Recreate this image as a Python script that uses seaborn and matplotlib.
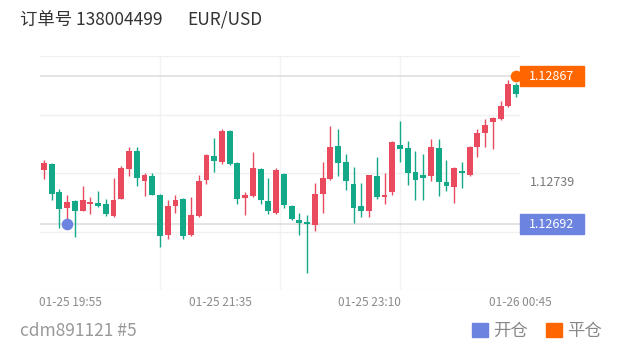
import numpy as np
import pandas as pd
import matplotlib
matplotlib.use("Agg")
import matplotlib.pyplot as plt
import matplotlib.transforms as mtransforms
from matplotlib.patches import Rectangle, Patch
import seaborn as sns

# -------------------------------
# Data (5-min candles, EUR/USD)
# -------------------------------
order_title = "订单号 138004499"
symbol = "EUR/USD"
account = "cdm891121 #5"

open_px = [1.12756, 1.12763, 1.12730, 1.12711, 1.12719, 1.12708, 1.12716, 1.12717, 1.12716, 1.12702,
           1.12722, 1.12757, 1.12778, 1.12743, 1.12749, 1.12727, 1.12679, 1.12714, 1.12722, 1.12679,
           1.12702, 1.12744, 1.12773, 1.12766, 1.12802, 1.12764, 1.12723, 1.12725, 1.12757, 1.12719,
           1.12705, 1.12751, 1.12713, 1.12697, 1.12694, 1.12691, 1.12728, 1.12745, 1.12784, 1.12766,
           1.12739, 1.12713, 1.12707, 1.12749, 1.12724, 1.12730, 1.12786, 1.12782, 1.12754, 1.12750,
           1.12749, 1.12782, 1.12742, 1.12736, 1.12755, 1.12750, 1.12783, 1.12800, 1.12813, 1.12816,
           1.12832, 1.12857]
high_px = [1.12768, 1.12764, 1.12734, 1.12726, 1.12720, 1.12737, 1.12724, 1.12731, 1.12722, 1.12746,
           1.12761, 1.12783, 1.12783, 1.12752, 1.12753, 1.12728, 1.12721, 1.12726, 1.12723, 1.12724,
           1.12750, 1.12775, 1.12794, 1.12804, 1.12803, 1.12766, 1.12730, 1.12777, 1.12758, 1.12746,
           1.12759, 1.12752, 1.12715, 1.12705, 1.12703, 1.12741, 1.12766, 1.12808, 1.12804, 1.12775,
           1.12760, 1.12741, 1.12750, 1.12772, 1.12752, 1.12790, 1.12814, 1.12790, 1.12778, 1.12775,
           1.12793, 1.12793, 1.12768, 1.12760, 1.12766, 1.12784, 1.12804, 1.12817, 1.12819, 1.12838,
           1.12862, 1.12859]
low_px = [1.12745, 1.12721, 1.12687, 1.12697, 1.12677, 1.12707, 1.12704, 1.12712, 1.12702, 1.12701,
          1.12722, 1.12749, 1.12737, 1.12725, 1.12726, 1.12665, 1.12674, 1.12705, 1.12674, 1.12678,
          1.12700, 1.12740, 1.12754, 1.12763, 1.12762, 1.12716, 1.12703, 1.12724, 1.12716, 1.12704,
          1.12704, 1.12711, 1.12697, 1.12679, 1.12634, 1.12684, 1.12705, 1.12744, 1.12749, 1.12732,
          1.12693, 1.12701, 1.12701, 1.12722, 1.12716, 1.12727, 1.12765, 1.12738, 1.12720, 1.12720,
          1.12743, 1.12725, 1.12731, 1.12717, 1.12735, 1.12749, 1.12772, 1.12783, 1.12781, 1.12815,
          1.12831, 1.12843]
close_px = [1.12764, 1.12728, 1.12710, 1.12718, 1.12707, 1.12720, 1.12718, 1.12714, 1.12704, 1.12721,
            1.12759, 1.12779, 1.12746, 1.12750, 1.12726, 1.12678, 1.12714, 1.12721, 1.12678, 1.12703,
            1.12743, 1.12774, 1.12767, 1.12802, 1.12763, 1.12722, 1.12727, 1.12759, 1.12720, 1.12707,
            1.12756, 1.12715, 1.12698, 1.12693, 1.12692, 1.12728, 1.12747, 1.12783, 1.12764, 1.12743,
            1.12711, 1.12708, 1.12750, 1.12724, 1.12727, 1.12789, 1.12781, 1.12753, 1.12744, 1.12747,
            1.12783, 1.12742, 1.12737, 1.12758, 1.12753, 1.12783, 1.12800, 1.12809, 1.12818, 1.12832,
            1.12858, 1.12846]

time_labels = ["01-25 19:55", "01-25 21:35", "01-25 23:10", "01-26 00:45"]
time_label_idx = [3.4, 22.8, 42.1, 61.5]

open_idx, open_price = 3, 1.12692      # 开仓
close_idx, close_price = 61, 1.12867   # 平仓
mid_price = 1.12739

# -------------------------------
# Style
# -------------------------------
RED = "#ea4a5e"
GREEN = "#13a887"
ORANGE = "#ff6600"
BLUE = "#6c84e0"

sns.set_theme(style="white")
plt.rcParams['font.family'] = ['Noto Sans CJK SC', 'DejaVu Sans']

df = pd.DataFrame({"open": open_px, "high": high_px, "low": low_px, "close": close_px})
df["idx"] = np.arange(len(df))
df["up"] = df["close"] >= df["open"]
df["color"] = np.where(df["up"], RED, GREEN)
df["body_lo"] = df[["open", "close"]].min(axis=1)
df["body_h"] = (df["close"] - df["open"]).abs().clip(lower=0.000012)

fig = plt.figure(figsize=(6.2, 3.52), dpi=100)
ax = fig.add_axes([40 / 620, 62 / 352, 480 / 620, 234 / 352])

lo, hi = 1.12614, 1.12891
ax.set_xlim(-0.5, len(df) - 0.5)
ax.set_ylim(lo, hi)

# grid
ax.set_yticks(np.linspace(lo, hi, 5))
ax.set_yticklabels([])
ax.set_xticks(np.linspace(-0.5, len(df) - 0.5, 5)[1:], minor=True)
ax.set_xticks(time_label_idx, time_labels)
ax.grid(False)
ax.grid(True, which="minor", axis="x", color="#f3f3f3", lw=1)
ax.grid(True, which="major", axis="y", color="#f0f0f0", lw=1)
ax.tick_params(axis="both", which="both", length=0)
ax.tick_params(axis="x", labelsize=8.5, labelcolor="#8a8a8a", pad=4)
for s in ax.spines.values():
    s.set_visible(False)

# price lines
ax.axhline(close_price, color="#e0e0e0", lw=1.3, zorder=1)
ax.axhline(open_price, color="#e0e0e0", lw=1.3, zorder=1)

# candles
ax.vlines(df["idx"], df["low"], df["high"], colors=df["color"], lw=1, zorder=2)
ax.bar(df["idx"], df["body_h"], bottom=df["body_lo"], width=0.76,
       color=df["color"], linewidth=0, zorder=3)

# trade markers
sns.scatterplot(x=[open_idx], y=[open_price], color=BLUE, s=70, linewidth=0,
                ax=ax, zorder=5, legend=False)
sns.scatterplot(x=[close_idx], y=[close_price], color=ORANGE, s=70, linewidth=0,
                ax=ax, zorder=5, legend=False, clip_on=False)

# price tags on the right
trans = mtransforms.blended_transform_factory(ax.transAxes, ax.transData)
tag_h = (hi - lo) * 20 / 234
tag_w = 64 / 480
for price, col in [(close_price, ORANGE), (open_price, BLUE)]:
    ax.add_patch(Rectangle((1.0, price - tag_h / 2), tag_w, tag_h, transform=trans,
                           color=col, clip_on=False, zorder=6))
    ax.text(1.0 + tag_w / 2, price, f"{price:.5f}", transform=trans, ha="center",
            va="center", color="white", fontsize=9, zorder=7)
shift = mtransforms.ScaledTranslation(0, 2 / 100, fig.dpi_scale_trans)
ax.text(1.0 + tag_w / 2, mid_price, f"{mid_price:.5f}", transform=trans + shift,
        ha="center", va="center", color="#777777", fontsize=9)

# header / footer
fig.text(20 / 620, 1 - 20 / 352, order_title, ha="left", va="center",
         fontsize=12.5, color="#333333")
fig.text(187 / 620, 1 - 20 / 352, symbol, ha="left", va="center",
         fontsize=12.5, color="#333333")
fig.text(20 / 620, 1 - 331 / 352, account, ha="left", va="center",
         fontsize=12.5, color="#999999")

handles = [Patch(color=BLUE, label="开仓"), Patch(color=ORANGE, label="平仓")]
fig.legend(handles=handles, loc="center right", bbox_to_anchor=(602 / 620, 1 - 331 / 352),
           ncol=2, frameon=False, fontsize=12.5, handlelength=0.95, handleheight=0.9,
           handletextpad=0.3, columnspacing=1.0, borderaxespad=0, borderpad=0,
           labelcolor="#888888")

fig.savefig("out.png", dpi=100, facecolor="white")
